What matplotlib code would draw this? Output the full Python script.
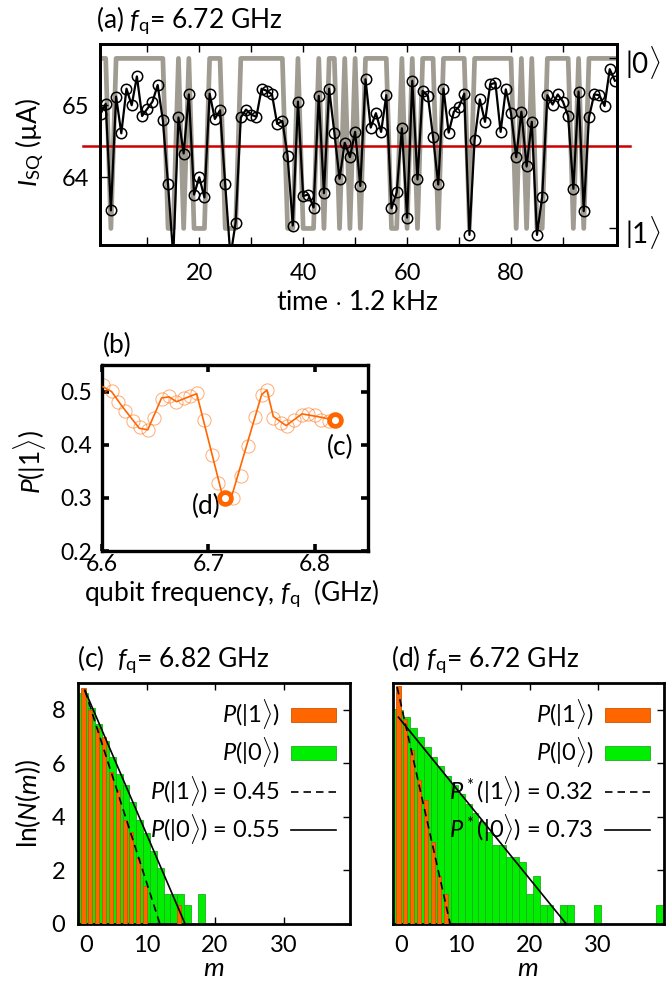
import numpy as np
import matplotlib.pyplot as plt
import matplotlib.transforms as mtransforms
from matplotlib.patches import Patch
from matplotlib.lines import Line2D

plt.rcParams['font.family'] = ['Lato', 'DejaVu Sans']
plt.rcParams['mathtext.fontset'] = 'custom'
plt.rcParams['mathtext.rm'] = 'Lato'
plt.rcParams['mathtext.it'] = 'Lato:italic'
plt.rcParams['font.size'] = 17
plt.rcParams['xtick.direction'] = 'in'
plt.rcParams['ytick.direction'] = 'in'

# (a) switching current trace, one point per sample
i_sq = [64.88, 65.02, 63.54, 65.12, 64.61, 65.23, 65.00, 65.40, 64.85, 64.95,
        65.05, 65.28, 64.79, 63.90, 62.90, 64.83, 64.33, 65.15, 63.76, 64.00,
        63.72, 65.16, 64.81, 64.93, 63.90, 62.90, 63.37, 64.83, 64.94, 64.87,
        64.84, 65.23, 65.20, 65.15, 64.74, 64.78, 64.30, 63.33, 65.05, 63.74,
        63.76, 63.58, 65.13, 63.78, 65.23, 64.62, 63.98, 64.48, 64.28, 64.63,
        63.88, 65.36, 64.69, 64.89, 64.63, 65.14, 63.57, 63.79, 64.68, 63.44,
        65.34, 63.97, 65.20, 65.13, 64.56, 63.90, 65.23, 64.62, 64.91, 64.98,
        65.16, 63.20, 64.52, 65.08, 64.77, 65.29, 65.31, 64.63, 65.22, 64.89,
        64.28, 64.91, 64.15, 64.77, 63.20, 63.73, 65.14, 65.01, 65.15, 65.05,
        64.85, 63.84, 65.19, 63.53, 64.83, 65.15, 65.14, 64.99, 65.50, 65.34]
threshold = 64.44
level0 = 65.65
level1 = 63.29

# (b) P(|1>) vs qubit frequency
f_pts = [6.601, 6.609, 6.615, 6.622, 6.629, 6.636, 6.643, 6.649, 6.656, 6.663,
         6.670, 6.677, 6.683, 6.689, 6.696, 6.703, 6.709, 6.723, 6.731, 6.737,
         6.744, 6.750, 6.755, 6.761, 6.768, 6.774, 6.780, 6.788, 6.794, 6.800,
         6.806, 6.813]
p_pts = [0.513, 0.502, 0.481, 0.464, 0.444, 0.434, 0.428, 0.450, 0.486, 0.492,
         0.481, 0.488, 0.492, 0.497, 0.447, 0.381, 0.328, 0.300, 0.342, 0.397,
         0.453, 0.494, 0.503, 0.450, 0.441, 0.436, 0.447, 0.456, 0.458, 0.456,
         0.447, 0.444]
f_line = [6.601, 6.609, 6.619, 6.635, 6.643, 6.656, 6.663, 6.670, 6.689, 6.713,
          6.717, 6.721, 6.750, 6.755, 6.761, 6.773, 6.788, 6.805, 6.819]
p_line = [0.509, 0.500, 0.472, 0.431, 0.428, 0.488, 0.490, 0.481, 0.496, 0.306,
          0.300, 0.297, 0.494, 0.503, 0.453, 0.436, 0.458, 0.452, 0.446]
f_c, p_c = 6.819, 0.446
f_d, p_d = 6.716, 0.300

# (c) ln N(m) at 6.82 GHz, m = 0, 1, 2, ...
ln_n1_c = [0, 8.83, 7.98, 7.30, 6.98, 5.67, 4.99, 3.87, 3.43, 2.44, 1.39,
           0, 0, 0, 0, 0.69]
ln_n0_c = [8.63, 8.63, 8.05, 7.46, 6.82, 6.24, 5.61, 5.18, 4.55, 3.87, 3.37,
           2.72, 2.08, 1.10, 1.10, 1.10, 0.69, 0, 1.10]
# (d) ln N(m) at 6.72 GHz
ln_n1_d = [0, 8.90, 7.67, 6.49, 5.36, 4.62, 3.06, 1.79, 1.10]
ln_n0_d = [8.04, 7.98, 7.73, 7.33, 6.98, 6.61, 6.24, 5.89, 5.51, 5.18,
           4.84, 4.49, 4.12, 3.81, 3.43, 2.94, 2.94, 2.48, 2.48, 2.30,
           1.10, 1.79, 0.69, 0.69, 0, 0.69, 0.69, 0, 0, 0,
           0.69, 0, 0, 0, 0, 0, 0, 0, 0, 0.69]
# fitted lines: (probability, start m, start ln N)
fit_c = [(0.45, 1.0, 8.73), (0.55, 1.0, 8.73)]
fit_d = [(0.32, 0.6, 8.85), (0.73, 0.8, 7.72)]

W, H = 671, 986
fig = plt.figure(figsize=(W / 100, H / 100), dpi=100)


def box(l, t, r, b):
    return [l / W, 1 - b / H, (r - l) / W, (b - t) / H]


def ftext(x, y, s, **kw):
    fig.text(x / W, 1 - y / H, s, **kw)


orange = '#ff6600'
green = '#00ee00'
big = 19
dash = (0, (4.5, 3))

# ---------- (a)
ax = fig.add_axes(box(100, 44, 617, 245))
t = np.arange(1, len(i_sq) + 1)
state = np.where(np.array(i_sq) > threshold, level0, level1)
ax.plot(t, state, color='#a19c92', lw=3.4, zorder=1)
ax.axhline(threshold, xmin=-0.033, xmax=1.025, color='#cc0000', lw=1.8,
           clip_on=False, zorder=2)
ax.plot(t, i_sq, color='black', lw=1.6, marker='o', ms=7.5, mfc='none',
        mec='black', mew=1.1, zorder=3)
ax.set_xlim(0.9, 100.4)
ax.set_ylim(63.06, 65.85)
ax.set_xticks(range(10, 100, 10))
ax.set_xticklabels(['' if v % 20 else str(v) for v in range(10, 100, 10)])
ax.set_yticks([64, 65])
ax.tick_params(top=True, right=False, length=6, width=1, labelsize=17)
ax.tick_params(axis='x', pad=13)
ax.tick_params(axis='y', pad=8)
for s in ax.spines.values():
    s.set_linewidth(2)
ax2 = ax.twinx()
ax2.set_ylim(ax.get_ylim())
ax2.set_yticks([level1, level0])
ax2.set_yticklabels([r'$|1\rangle$', r'$|0\rangle$'], fontsize=20)
ax2.tick_params(length=6, width=1, pad=6)
for s in ax2.spines.values():
    s.set_linewidth(2)
ftext(96, 21, r'(a) $f_{\rm q}$= 6.72 GHz', fontsize=big, va='center')
ftext(357, 302, r'time $\cdot$ 1.2 kHz', fontsize=big, ha='center',
      va='center')
ftext(30, 142, r'$I_{\rm SQ}$ (µA)', fontsize=big, ha='center', va='center',
      rotation=90)

# ---------- (b)
bx = fig.add_axes(box(102, 365, 368, 551))
bx.plot(f_pts, p_pts, ls='none', marker='o', ms=9.5, mfc='none', mec=orange,
        mew=0.7, alpha=0.55, zorder=2)
bx.plot(f_line, p_line, color=orange, lw=1.2, zorder=3)
bx.plot([f_c, f_d], [p_c, p_d], ls='none', marker='o', ms=8.5, mfc='white',
        mec=orange, mew=3.4, zorder=4)
bx.set_xlim(6.6, 6.85)
bx.set_ylim(0.2, 0.55)
bx.set_xticks([6.6, 6.7, 6.8])
bx.set_yticks([0.2, 0.3, 0.4, 0.5])
bx.tick_params(top=True, right=True, length=5, width=2.6, labelsize=16.5)
bx.tick_params(axis='x', pad=2)
bx.tick_params(axis='y', pad=7)
for s in bx.spines.values():
    s.set_linewidth(2.4)
bx.text(f_c + 0.005, p_c - 0.052, '(c)', fontsize=big, ha='center',
        va='center')
bx.text(f_d - 0.018, p_d - 0.017, '(d)', fontsize=big, ha='center',
        va='center')
ftext(117, 345, '(b)', fontsize=big, ha='center', va='center')
ftext(232, 594, r'qubit frequency, $f_{\rm q}$  (GHz)', fontsize=big,
      ha='center', va='center')
ftext(30, 462, r'$P(|1\rangle)$', fontsize=big, ha='center', va='center',
      rotation=90)


# ---------- (c), (d)
def hist_panel(rect, n1, n0, fits, star, labels_left):
    hx = fig.add_axes(rect)
    m0 = np.arange(len(n0))
    m1 = np.arange(len(n1))
    hx.bar(m0, n0, width=1.0, color=green, edgecolor='#22aa22', lw=0.6,
           zorder=2)
    hx.bar(m1 - 0.5, n1, width=0.6, align='edge', color=orange,
           edgecolor='#cc5500', lw=0.6, zorder=3)
    styles = [dash, '-']
    for (p, ms, ys), st in zip(fits, styles):
        k = np.log(p)
        me = ms - ys / k
        hx.plot([ms, me], [ys, 0], color='black', lw=1.2, ls=st, zorder=4)
    hx.set_xlim(0, 39.7)
    hx.set_ylim(0, 9)
    hx.set_xticks([0, 10, 20, 30])
    hx.set_yticks([0, 2, 4, 6, 8])
    hx.tick_params(top=True, right=True, length=5, width=1, labelsize=17)
    hx.tick_params(axis='x', pad=8)
    hx.tick_params(axis='y', pad=9)
    lab0 = hx.get_xticklabels()[0]
    lab0.set_transform(lab0.get_transform() + mtransforms.ScaledTranslation(
        8 / 100, 0, fig.dpi_scale_trans))
    if not labels_left:
        hx.set_yticklabels([])
    for s in hx.spines.values():
        s.set_linewidth(2)
    p = r'P^*' if star else r'P'
    handles = [Patch(facecolor=orange, edgecolor='#cc5500', lw=0.6),
               Patch(facecolor=green, edgecolor='#22aa22', lw=0.6),
               Line2D([], [], color='black', ls=dash, lw=1.2),
               Line2D([], [], color='black', ls='-', lw=1.2)]
    texts = [r'$P(|1\rangle)$', r'$P(|0\rangle)$',
             r'$%s(|1\rangle)$ = %.2f' % (p, fits[0][0]),
             r'$%s(|0\rangle)$ = %.2f' % (p, fits[1][0])]
    leg = hx.legend(handles, texts, loc='upper right', frameon=False,
                    markerfirst=False, fontsize=17, handlelength=1.9,
                    handleheight=0.55, labelspacing=0.18, borderaxespad=0.2,
                    handletextpad=0.5)
    for txt in leg.get_texts():
        txt.set_ha('right')
    leg.set_zorder(5)
    return hx


hist_panel(box(78, 683, 350, 923.5), ln_n1_c, ln_n0_c, fit_c, False, True)
hist_panel(box(393, 683, 664, 923.5), ln_n1_d, ln_n0_d, fit_d, True, False)
ftext(77, 660, r'(c)  $f_{\rm q}$= 6.82 GHz', fontsize=big, va='center')
ftext(391, 660, r'(d) $f_{\rm q}$= 6.72 GHz', fontsize=big, va='center')
ftext(214, 969, r'$m$', fontsize=big, ha='center', va='center')
ftext(528, 969, r'$m$', fontsize=big, ha='center', va='center')
ftext(28, 803, r'ln($N$($m$))', fontsize=big, ha='center', va='center',
      rotation=90)

fig.savefig('out.png', dpi=100)
